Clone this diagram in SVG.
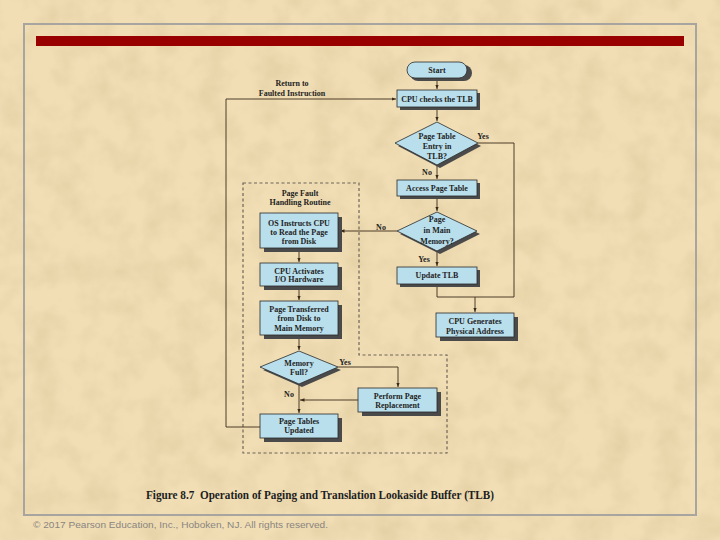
<svg xmlns="http://www.w3.org/2000/svg" width="720" height="540" viewBox="0 0 720 540">
<defs>
<filter id="tex" x="0" y="0" width="100%" height="100%">
<feTurbulence type="fractalNoise" baseFrequency="0.035" numOctaves="3" seed="4" result="n"/>
<feColorMatrix type="matrix" values="0 0 0 0 0.55  0 0 0 0 0.42  0 0 0 0 0.2  0 0 0 1.2 -0.45" result="c"/>
<feComposite in="c" in2="SourceGraphic" operator="in"/>
</filter>
<marker id="ah" viewBox="0 0 10 10" refX="10" refY="5" markerWidth="5" markerHeight="5" orient="auto">
<path d="M0,1 L10,5 L0,9 z" fill="#3a2a1a"/>
</marker>
<style>
.bx{fill:#b9deec;stroke:#2a2a2a;stroke-width:0.8}
.sh{fill:#4a4a4a}
.t{font-family:"Liberation Serif","Times New Roman",serif;font-size:8px;font-weight:bold;fill:#1e1e1e;text-anchor:middle}
.ln{fill:none;stroke:#3a2a1a;stroke-width:0.9}
.ar{fill:none;stroke:#3a2a1a;stroke-width:0.9;marker-end:url(#ah)}
</style>
</defs>
<rect width="720" height="540" fill="#f1deb5"/>
<rect width="720" height="540" fill="#f1deb5" filter="url(#tex)" opacity="0.4"/>
<rect x="24" y="24" width="672" height="491" fill="none" stroke="#a8a4a0" stroke-width="2"/>
<rect x="36" y="36" width="648" height="10" fill="#990000"/>

<g id="routine">
<path d="M243,183 H359 V355 H447 V453 H243 Z" fill="none" stroke="#6e6458" stroke-width="1.2" stroke-dasharray="3,2.5"/>
<text class="t" x="300" y="196">Page Fault</text>
<text class="t" x="300" y="205">Handling Routine</text>
</g>

<g id="connectors">
<path class="ar" d="M437,78 V89"/>
<path class="ar" d="M437,108 V121"/>
<path class="ar" d="M437,165 V179"/>
<path class="ar" d="M437,197 V211"/>
<path class="ar" d="M437,251 V266"/>
<path class="ln" d="M478,143 H514 V297 H437 V285"/>
<path class="ar" d="M475,297 V312"/>
<path class="ar" d="M397,231 H340"/>
<path class="ar" d="M299,249 V262"/>
<path class="ar" d="M299,287 V300"/>
<path class="ar" d="M299,336 V350"/>
<path class="ln" d="M338,367 H398"/>
<path class="ar" d="M398,367 V387"/>
<path class="ar" d="M358,400 H300"/>
<path class="ar" d="M299,384 V413"/>
<path class="ar" d="M260,427 H226 V99 H396"/>
<text class="t" x="483" y="139">Yes</text>
<text class="t" x="427" y="175">No</text>
<text class="t" x="381" y="230">No</text>
<text class="t" x="424" y="262">Yes</text>
<text class="t" x="345" y="365">Yes</text>
<text class="t" x="289" y="397">No</text>
<text class="t" x="292" y="86">Return to</text>
<text class="t" x="292" y="96">Faulted Instruction</text>
</g>

<g id="start">
<rect class="sh" x="410" y="65" width="62" height="16" rx="8"/>
<rect class="bx" x="407" y="62" width="60" height="16" rx="8"/>
<text class="t" x="437" y="73">Start</text>
</g>
<g id="cpu-checks">
<rect class="sh" x="400" y="93" width="80" height="17"/>
<rect class="bx" x="397" y="90" width="80" height="17"/>
<text class="t" x="437" y="101.5">CPU checks the TLB</text>
</g>
<g id="tlb-entry">
<polygon class="sh" points="440,125 481,146 440,168 398,146"/>
<polygon class="bx" points="437,122 478,143 437,165 395,143"/>
<text class="t" x="437" y="139">Page Table</text>
<text class="t" x="437" y="149">Entry in</text>
<text class="t" x="437" y="159">TLB?</text>
</g>
<g id="access-pt">
<rect class="sh" x="400" y="183" width="80" height="16"/>
<rect class="bx" x="397" y="180" width="80" height="16"/>
<text class="t" x="437" y="191">Access Page Table</text>
</g>
<g id="page-in-mem">
<polygon class="sh" points="440,215 480,234 440,254 400,234"/>
<polygon class="bx" points="437,212 477,231 437,251 397,231"/>
<text class="t" x="437" y="222">Page</text>
<text class="t" x="437" y="233">in Main</text>
<text class="t" x="437" y="244">Memory?</text>
</g>
<g id="update-tlb">
<rect class="sh" x="400" y="270" width="80" height="17"/>
<rect class="bx" x="397" y="267" width="80" height="17"/>
<text class="t" x="437" y="278">Update TLB</text>
</g>
<g id="cpu-gen">
<rect class="sh" x="440" y="317" width="78" height="24"/>
<rect class="bx" x="436" y="313" width="78" height="24"/>
<text class="t" x="475" y="323.5">CPU Generates</text>
<text class="t" x="475" y="333.5">Physical Address</text>
</g>
<g id="os-instructs">
<rect class="sh" x="264" y="217" width="78" height="35"/>
<rect class="bx" x="260" y="213" width="78" height="35"/>
<text class="t" x="299" y="225.5">OS Instructs CPU</text>
<text class="t" x="299" y="234.5">to Read the Page</text>
<text class="t" x="299" y="244">from Disk</text>
</g>
<g id="cpu-io">
<rect class="sh" x="264" y="267" width="78" height="23"/>
<rect class="bx" x="260" y="263" width="78" height="23"/>
<text class="t" x="299" y="273.5">CPU Activates</text>
<text class="t" x="299" y="282">I/O Hardware</text>
</g>
<g id="page-transferred">
<rect class="sh" x="264" y="305" width="78" height="34"/>
<rect class="bx" x="260" y="301" width="78" height="34"/>
<text class="t" x="299" y="312">Page Transferred</text>
<text class="t" x="299" y="321">from Disk to</text>
<text class="t" x="299" y="330.5">Main Memory</text>
</g>
<g id="memory-full">
<polygon class="sh" points="302,354 341,370 302,387 263,370"/>
<polygon class="bx" points="299,351 338,367 299,384 260,367"/>
<text class="t" x="299" y="366">Memory</text>
<text class="t" x="299" y="375">Full?</text>
</g>
<g id="replacement">
<rect class="sh" x="362" y="392" width="79" height="24"/>
<rect class="bx" x="358" y="388" width="79" height="24"/>
<text class="t" x="397.5" y="398.5">Perform Page</text>
<text class="t" x="397.5" y="408">Replacement</text>
</g>
<g id="pt-updated">
<rect class="sh" x="264" y="418" width="78" height="24"/>
<rect class="bx" x="260" y="414" width="78" height="24"/>
<text class="t" x="299" y="423.5">Page Tables</text>
<text class="t" x="299" y="432.5">Updated</text>
</g>

<text x="146" y="499" xml:space="preserve" font-family="'Liberation Serif','Times New Roman',serif" font-size="11.5" font-weight="bold" fill="#1e1e1e" textLength="348" lengthAdjust="spacingAndGlyphs">Figure 8.7  Operation of Paging and Translation Lookaside Buffer (TLB)</text>
<text x="33" y="528" font-family="'Liberation Sans',Arial,sans-serif" font-size="9" fill="#8a8580" textLength="295" lengthAdjust="spacingAndGlyphs">© 2017 Pearson Education, Inc., Hoboken, NJ. All rights reserved.</text>
</svg>
